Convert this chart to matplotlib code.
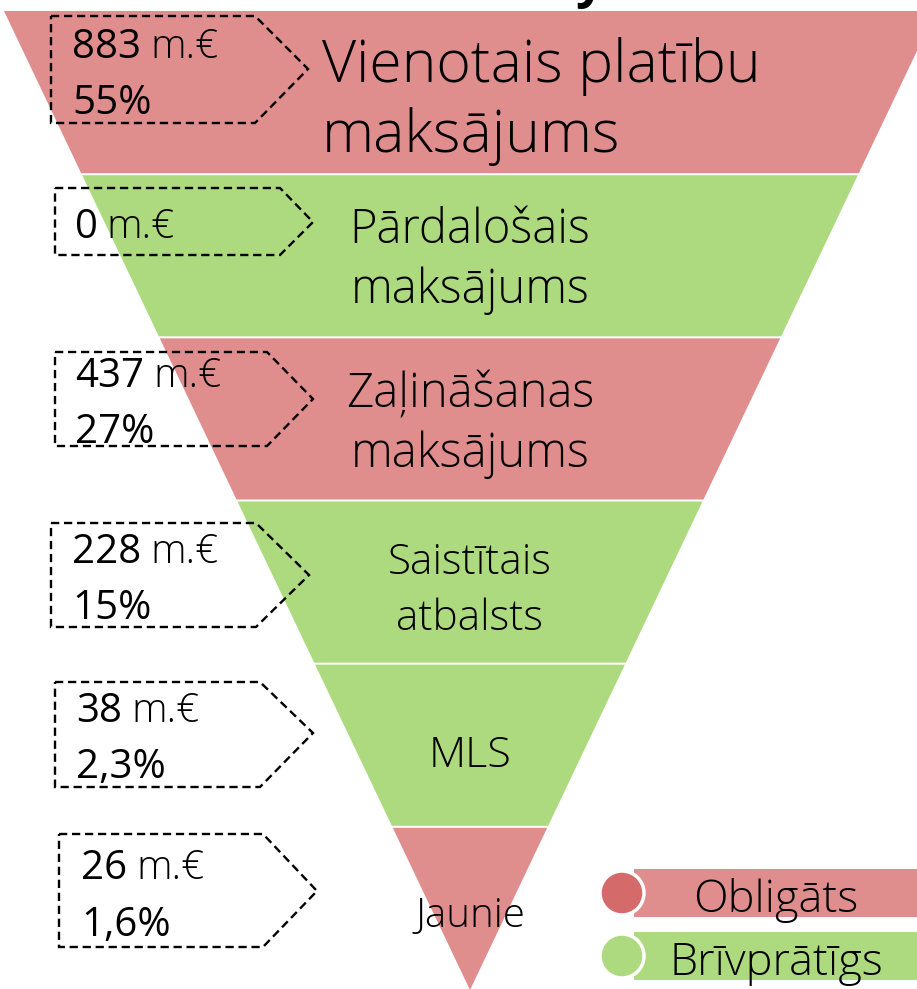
import matplotlib
matplotlib.use("Agg")
import matplotlib.pyplot as plt
from matplotlib.patches import Polygon, Circle, Rectangle

# data
names = ["Vienotais platību\nmaksājums", "Pārdalošais\nmaksājums", "Zaļināšanas\nmaksājums",
         "Saistītais\natbalsts", "MLS", "Jaunie"]
amounts = ["883", "0", "437", "228", "38", "26"]
shares = ["55%", "", "27%", "15%", "2,3%", "1,6%"]
kinds = ["Obligāts", "Brīvprātīgs", "Obligāts", "Brīvprātīgs", "Brīvprātīgs", "Obligāts"]
legend_labels = ["Obligāts", "Brīvprātīgs"]

fill = {"Obligāts": "#E08D8D", "Brīvprātīgs": "#ADDA7E"}
dot = {"Obligāts": "#D46A6A", "Brīvprātīgs": "#ADDA7E"}

plt.rcParams['font.family'] = ['Open Sans', 'DejaVu Sans']

W, H = 917, 989
fig = plt.figure(figsize=(W / 100, H / 100), dpi=100)
ax = fig.add_axes([0, 0, 1, 1])
ax.set_xlim(0, W)
ax.set_ylim(H, 0)
ax.axis("off")

# funnel: inverted triangle split in equal bands
cx, top, apex, half_top = 470, 11, 990, 466
band = (apex - top) / len(names)

def half(y):
    return half_top * (apex - y) / (apex - top)

for i, k in enumerate(kinds):
    y0 = top + i * band + (1 if i else 0)
    y1 = top + (i + 1) * band - 1
    pts = [(cx - half(y0), y0), (cx + half(y0), y0), (cx + half(y1), y1), (cx - half(y1), y1)]
    ax.add_patch(Polygon(pts, closed=True, fc=fill[k], ec="none"))

# funnel labels (baselines of each line)
name_base = [[82, 152], [243, 303], [407, 467], [574, 630], [767], [927]]
name_size = [42.5, 34, 34, 30.5, 31, 29]
for i, nm in enumerate(names):
    for line, yb in zip(nm.split("\n"), name_base[i]):
        if i == 0:
            ax.text(322, yb, line, ha="left", va="baseline", fontsize=name_size[i],
                    fontweight="light", color="black")
        else:
            ax.text(cx, yb, line, ha="center", va="baseline", fontsize=name_size[i],
                    fontweight="light", color="black")

# dashed arrow boxes on the left: left, top, bottom, flat end, tip x, tip y
boxes = [(51, 16, 123, 255, 308, 69), (55, 188, 255, 280, 313, 222),
         (55, 352, 446, 267, 313, 399), (51, 523, 627, 256, 309, 575),
         (55, 682, 787, 260, 313, 733), (59, 834, 947, 263, 317, 891)]
text_left = [72, 75, 75, 72, 76, 81]
line1 = [58, 238, 387, 563, 722, 879]
line2 = [114, None, 443, 619, 778, 936]

fig.canvas.draw()
r = fig.canvas.get_renderer()
for i, (l, t, b, f, tx, ty) in enumerate(boxes):
    pts = [(l, t), (f, t), (tx, ty), (f, b), (l, b)]
    ax.add_patch(Polygon(pts, closed=True, fill=False, ec="black", lw=1.7,
                         ls=(0, (3.5, 2)), joinstyle="miter"))
    t1 = ax.text(text_left[i], line1[i], amounts[i], ha="left", va="baseline",
                 fontsize=29, color="black")
    bb = t1.get_window_extent(renderer=r)
    x_end = ax.transData.inverted().transform((bb.x1, bb.y0))[0]
    ax.text(x_end + 9, line1[i], "m.€", ha="left", va="baseline", fontsize=29,
            fontweight="light", color="black")
    if shares[i]:
        ax.text(text_left[i], line2[i], shares[i], ha="left", va="baseline",
                fontsize=29, color="black")

# legend
leg_y = [893, 956]
for lab, yc in zip(legend_labels, leg_y):
    ax.add_patch(Rectangle((634, yc - 24), W - 634, 48, fc=fill[lab], ec="none"))
    ax.add_patch(Circle((622, yc), 22, fc=dot[lab], ec="white", lw=2.5))
    ax.text(776, yc + 19, lab, ha="center", va="baseline", fontsize=32.5,
            fontweight="light", color="black")

# cut-off title above the chart
ax.text(590, -3, "y", ha="center", va="baseline", fontsize=36, fontweight="bold",
        color="black", clip_on=False)

fig.savefig("out.png", dpi=100)
